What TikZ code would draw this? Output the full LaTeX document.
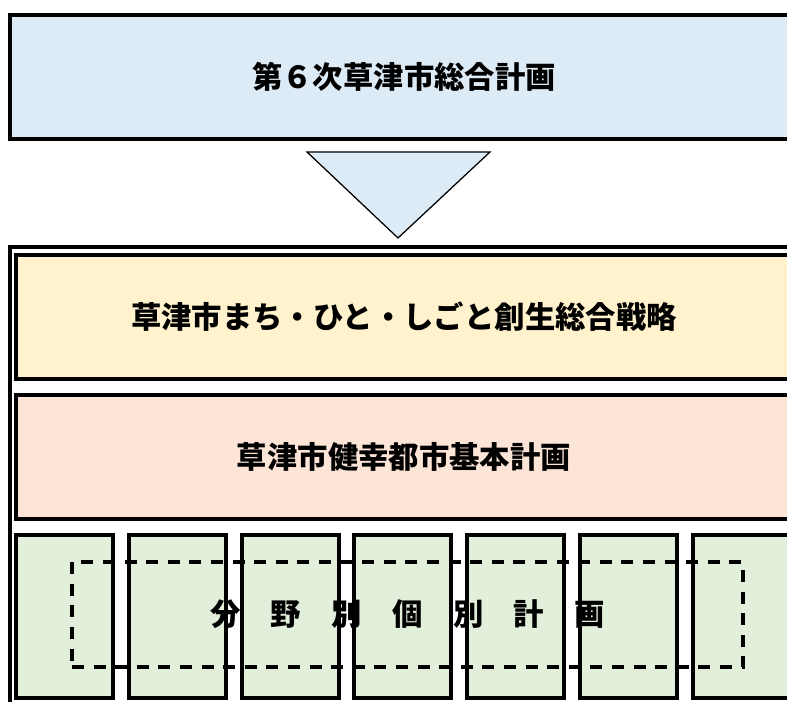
\documentclass[tikz,border=0pt]{standalone}
\usepackage{fontspec}
\newfontfamily\jpfont{Noto Sans CJK JP}
\usetikzlibrary{positioning,calc}
\definecolor{planblue}{HTML}{DDEBF7}
\definecolor{stratyellow}{HTML}{FFF2CC}
\definecolor{citypink}{HTML}{FCE4D6}
\definecolor{fieldgreen}{HTML}{E2EFDA}

\begin{document}
\begin{tikzpicture}
[font=\jpfont\bfseries\fontsize{21.6}{26}\selectfont, line width=2.83pt,
plan/.style={rectangle, draw, fill=planblue, inner sep=0pt, minimum width=19.7cm, minimum height=3.09cm},
layer/.style={rectangle, draw, inner sep=0pt, minimum width=19.4cm, minimum height=3.1cm},
fieldbox/.style={rectangle, draw, fill=fieldgreen, inner sep=0pt, minimum width=2.425cm, minimum height=4.075cm},
fieldall/.style={rectangle, draw, dash pattern=on 0.3cm off 0.24cm, line width=2.5pt, inner sep=0pt, minimum width=16.775cm, minimum height=2.625cm},
arrowtri/.style={draw, fill=planblue, line width=0.9pt, line join=miter}]

\useasboundingbox (0,0) rectangle (19.675,17.55);
\clip (0,0) rectangle (19.675,17.55);

\node[plan] (sogo) at (10.1,15.63) {第６次草津市総合計画};

\coordinate (triL) at (7.675,13.75);
\coordinate (triR) at (12.25,13.75);
\coordinate (triB) at (9.95,11.6);
\draw[arrowtri] (triL) -- (triR) -- (triB) -- cycle;

\draw (0.25,11.375) rectangle (20.5,-1);

\node[layer, fill=stratyellow] (senryaku) at (10.1,9.625) {草津市まち・ひと・しごと創生総合戦略};
\node[layer, fill=citypink] (kenko) at (10.1,6.125) {草津市健幸都市基本計画};

\foreach \c in {0,...,6} {
  \node[fieldbox] (field\c) at ({1.6125+2.82*\c},2.1375) {};
}
\node[fieldall] (bunya) at (10.1875,2.1875) {分　野　別　個　別　計　画};

\end{tikzpicture}
\end{document}
